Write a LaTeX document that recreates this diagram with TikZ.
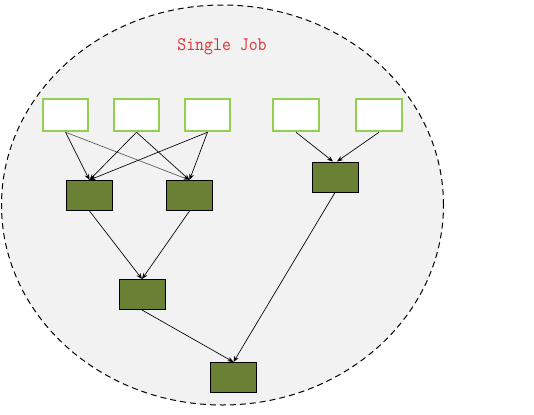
\documentclass[tikz,border=0pt]{standalone}
\usepackage{fontspec}
\usetikzlibrary{arrows.meta,shapes.geometric}
\definecolor{inbox}{RGB}{146,208,80}
\definecolor{olive}{RGB}{106,128,52}
\definecolor{bg}{RGB}{242,242,242}
\definecolor{titlered}{RGB}{220,50,50}
\begin{document}
\begin{tikzpicture}[x=0.75pt,y=-0.75pt,
  inputbox/.style={draw=inbox,line width=1.5pt,fill=white,minimum width=45.5*0.75pt,minimum height=32.5*0.75pt,inner sep=0pt},
  taskbox/.style={draw=black,line width=0.75pt,fill=olive,minimum width=46*0.75pt,minimum height=30*0.75pt,inner sep=0pt},
  flow/.style={draw=black,line width=0.5pt,-{Stealth[length=4.5pt,width=3.5pt]}},
  flowgray/.style={draw=black!65,line width=0.5pt,-{Stealth[length=4.5pt,width=3.5pt]}}]
\useasboundingbox (0,0) rectangle (534,414);
\node[draw=black,dash pattern=on 4.5pt off 3pt,line width=0.75pt,fill=bg,ellipse,minimum width=442*0.75pt,minimum height=400*0.75pt,inner sep=0pt] (job) at (222.5,205) {};
\node[text=titlered,font=\ttfamily\fontsize{13pt}{15pt}\selectfont,yscale=1.1] (title) at (222,47) {Single Job};
\node[inputbox] (i1) at (65.5,115) {};
\node[inputbox] (i2) at (136.5,115) {};
\node[inputbox] (i3) at (207.5,115) {};
\node[inputbox] (i4) at (296,115) {};
\node[inputbox] (i5) at (379,115) {};
\node[taskbox] (a) at (89.5,195.5) {};
\node[taskbox] (b) at (189.5,195.5) {};
\node[taskbox] (c) at (335,177) {};
\node[taskbox] (d) at (142,294.5) {};
\node[taskbox] (e) at (233.5,377.5) {};
\draw[flow] (i1.south) -- (a.north);
\draw[flowgray] (i1.south) -- (b.north);
\draw[flow] (i2.south) -- (a.north);
\draw[flow] (i2.south) -- (b.north);
\draw[flow] (i3.south) -- (a.north);
\draw[flow] (i3.south) -- (b.north);
\draw[flow] (i4.south) -- ([xshift=-1.5pt]c.north);
\draw[flow] (i5.south) -- ([xshift=1.5pt]c.north);
\draw[flow] (a.south) -- (d.north);
\draw[flow] (b.south) -- (d.north);
\draw[flow] (d.south) -- (e.north);
\draw[flow] (c.south) -- (e.north);
\end{tikzpicture}
\end{document}
